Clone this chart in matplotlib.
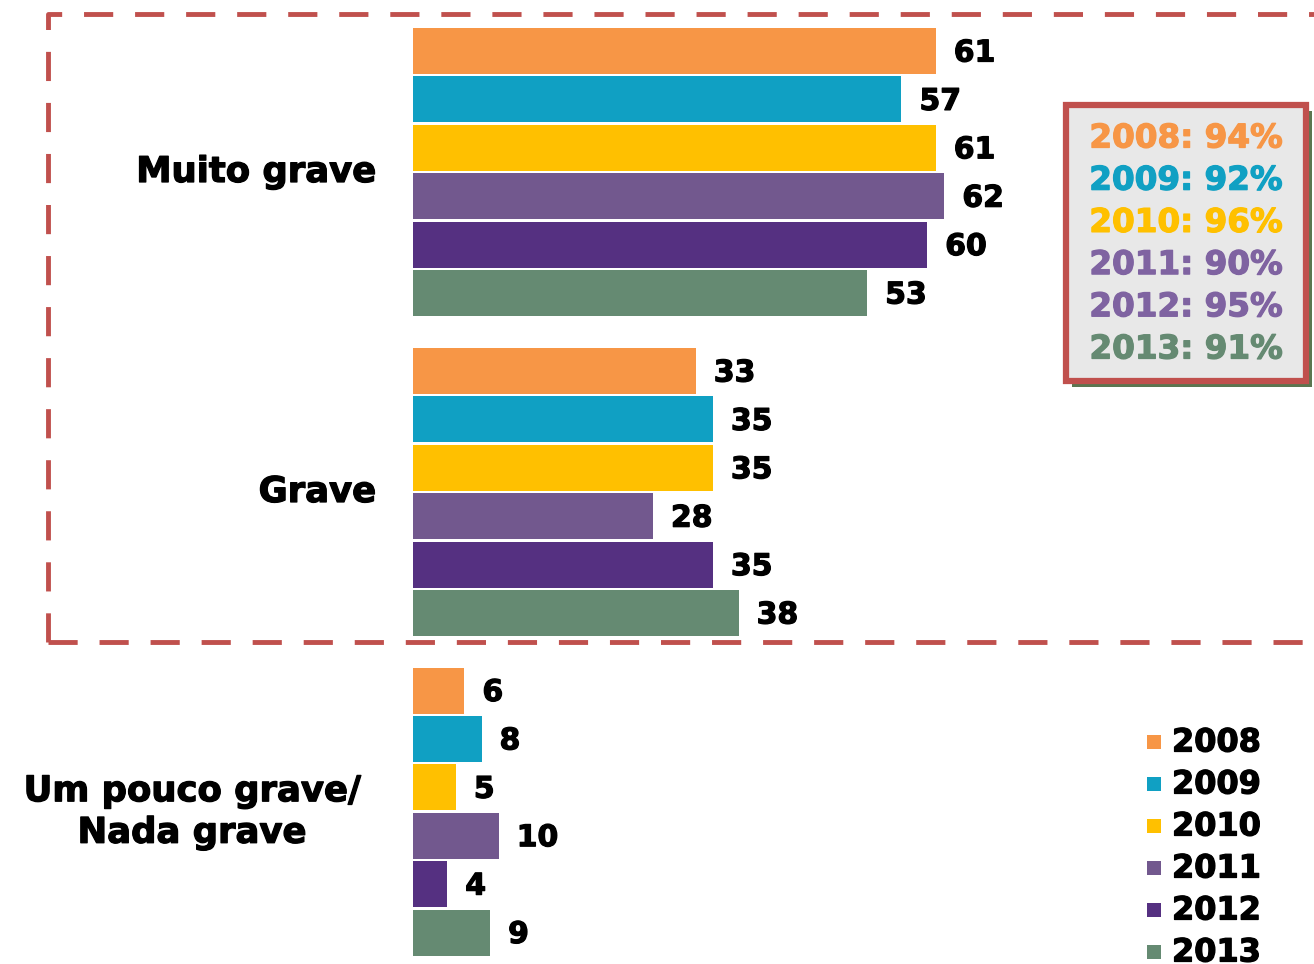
import matplotlib
matplotlib.use("Agg")
import matplotlib.pyplot as plt
from matplotlib.patches import Rectangle
import matplotlib.patheffects as pe

categories = ["Muito grave", "Grave", "Um pouco grave/\nNada grave"]
years = ["2008", "2009", "2010", "2011", "2012", "2013"]
values = {
    "2008": [61, 33, 6],
    "2009": [57, 35, 8],
    "2010": [61, 35, 5],
    "2011": [62, 28, 10],
    "2012": [60, 35, 4],
    "2013": [53, 38, 9],
}
totals = ["94%", "92%", "96%", "90%", "95%", "91%"]
colors = ["#F79646", "#10A0C3", "#FFC000", "#72588E", "#553081", "#658A72"]
text_colors = ["#F79646", "#10A0C3", "#FFC000", "#7F63A1", "#7F63A1", "#658A72"]

W, H = 1314, 964
fig = plt.figure(figsize=(W / 100, H / 100), dpi=100)
ax = fig.add_axes([0, 0, 1, 1])
scale = 8.57  # px per unit
x0 = 413
ax.set_xlim(-x0 / scale, (W - x0) / scale)
ax.set_ylim(H, 0)
ax.axis("off")

def px(xp):
    return (xp - x0) / scale

def heavy(c):
    return [pe.withStroke(linewidth=0.9, foreground=c)]

group_start = [51, 371, 690.5]
pitch = 48.4
bar_h = 46

for j, yr in enumerate(years):
    for g in range(3):
        yc = group_start[g] + j * pitch
        v = values[yr][g]
        ax.barh(yc, v, height=bar_h, color=colors[j], edgecolor="none")
        ax.text(v + 2.1, yc + 2, str(v), ha="left", va="center",
                fontsize=21.5, fontweight="bold", color="black",
                path_effects=heavy("black"))

label_y = [172, 492, 812]
ax.text(px(376), label_y[0], categories[0], ha="right", va="center",
        fontsize=25.5, fontweight="bold", path_effects=heavy("black"))
ax.text(px(376), label_y[1], categories[1], ha="right", va="center",
        fontsize=25.5, fontweight="bold", path_effects=heavy("black"))
ax.text(px(192), label_y[2], categories[2], ha="center", va="center",
        fontsize=25.5, fontweight="bold", linespacing=1.28,
        path_effects=heavy("black"))

# dashed box
ax.plot([px(48), px(48), px(1320), ], [642, 14, 14], color="#C0504D", lw=3.5,
        dashes=(6, 4.5), solid_capstyle="butt", clip_on=False)
ax.plot([px(48), px(1320)], [642, 642], color="#C0504D", lw=3.5,
        dashes=(6, 4.5), clip_on=False)

# inset box with shadow
bx0, by0, bx1, by1 = 1066, 105, 1306, 381
ax.add_patch(Rectangle((px(bx0 + 6), by0 + 6), (bx1 - bx0) / scale, (by1 - by0),
                       facecolor="#5B7650", edgecolor="#5B7650", lw=0, zorder=3))
ax.add_patch(Rectangle((px(bx0), by0), (bx1 - bx0) / scale, (by1 - by0),
                       facecolor="#E8E8E8", edgecolor="#C0504D", lw=4.5, zorder=4))
for j, yr in enumerate(years):
    ax.text(px(1186), 138 + j * 42.2, f"{yr}: {totals[j]}", ha="center", va="center",
            fontsize=23.5, fontweight="bold", color=text_colors[j], zorder=5,
            path_effects=heavy(text_colors[j]))

# legend
for j, yr in enumerate(years):
    yc = 742 + j * 42
    ax.add_patch(Rectangle((px(1147), yc - 7), 14 / scale, 14,
                           facecolor=colors[j], edgecolor="none"))
    ax.text(px(1172), yc + 1, yr, ha="left", va="center", fontsize=23,
            fontweight="bold", color="black", path_effects=heavy("black"))

fig.savefig("out.png", dpi=100)
